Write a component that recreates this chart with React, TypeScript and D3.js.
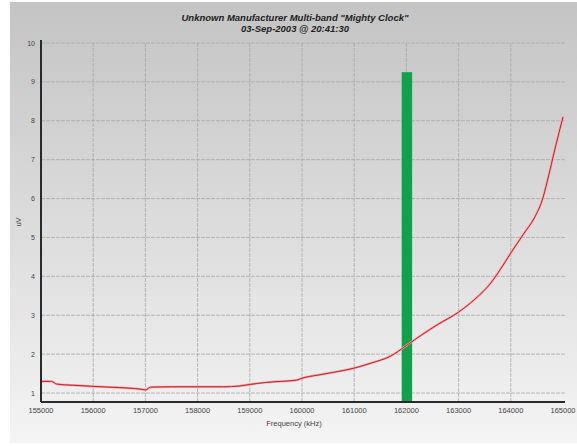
import React from "react";
import * as d3 from "d3";

// Measured response across the band (frequency in kHz)
const freqs = [
  155000, 155200, 155300, 155600, 156000, 156500, 156900, 157000, 157100, 157500,
  158000, 158500, 158800, 159000, 159300, 159600, 159900, 160000, 160300, 160600,
  161000, 161300, 161700, 162000, 162300, 162600, 163000, 163400, 163600, 163800,
  164000, 164250, 164450, 164600, 164700, 164850, 165000,
];
const values = [
  1.3, 1.3, 1.23, 1.2, 1.17, 1.14, 1.1, 1.08, 1.15, 1.16,
  1.16, 1.16, 1.18, 1.22, 1.27, 1.3, 1.33, 1.38, 1.46, 1.53,
  1.64, 1.76, 1.95, 2.22, 2.5, 2.76, 3.08, 3.52, 3.8, 4.18,
  4.6, 5.1, 5.5, 5.95, 6.45, 7.3, 8.1,
];

// Marker bar
const markerFreq = 162000;
const markerSpan = 200;
const markerValue = 9.25;

const xTicks = [155000, 156000, 157000, 158000, 159000, 160000, 161000, 162000, 163000, 164000, 165000];
const yTicks = [1, 2, 3, 4, 5, 6, 7, 8, 9, 10];

const titleLines = ['Unknown Manufacturer Multi-band "Mighty Clock"', "03-Sep-2003 @ 20:41:30"];
const xLabel = "Frequency (kHz)";
const yLabel = "uV";

const W = 577;
const H = 446;
const plot = { left: 41, right: 563, top: 43, bottom: 401 };

export default function App() {
  const x = d3.scaleLinear().domain([155000, 165000]).range([plot.left, plot.right]);
  const y = d3.scaleLinear().domain([1, 10]).range([393, 43]);

  const pts: [number, number][] = freqs.map((f, i) => [f, values[i]]);
  const line = d3
    .line<[number, number]>()
    .x((d) => x(d[0]))
    .y((d) => y(d[1]))
    .curve(d3.curveMonotoneX);

  const font = "'Liberation Sans', Arial, sans-serif";

  return (
    <div style={{ position: "fixed", left: 0, top: 0 }}>
      <svg width={W} height={H} style={{ display: "block" }}>
        <defs>
          <linearGradient id="panelBg" x1="0" y1="0" x2="0" y2="1">
            <stop offset="0" stopColor="#c4c4c4" />
            <stop offset="0.55" stopColor="#dedede" />
            <stop offset="1" stopColor="#f4f4f4" />
          </linearGradient>
        </defs>
        <rect x={0} y={0} width={W} height={H} fill="#ffffff" />
        <rect x={10} y={2} width={W - 10} height={H - 5} fill="url(#panelBg)" />

        {/* grid */}
        {yTicks.map((t) => (
          <line
            key={"gy" + t}
            x1={plot.left}
            x2={plot.right + 2}
            y1={y(t)}
            y2={y(t)}
            stroke="#a8a8a8"
            strokeWidth={0.8}
            strokeDasharray="4,1"
          />
        ))}
        {xTicks.slice(1, -1).map((t) => (
          <line
            key={"gx" + t}
            x1={x(t)}
            x2={x(t)}
            y1={plot.top}
            y2={plot.bottom}
            stroke="#a8a8a8"
            strokeWidth={0.8}
            strokeDasharray="4,1"
          />
        ))}

        {/* marker bar */}
        <rect
          x={x(markerFreq - markerSpan / 2) + 0.5}
          y={y(markerValue)}
          width={x(markerFreq + markerSpan / 2) - x(markerFreq - markerSpan / 2)}
          height={plot.bottom - y(markerValue)}
          fill="#12a048"
        />

        {/* response curve */}
        <path d={line(pts) ?? ""} fill="none" stroke="#f4a0a0" strokeWidth={2.2} strokeLinejoin="round" />
        <path d={line(pts) ?? ""} fill="none" stroke="#c81e24" strokeWidth={1} strokeLinejoin="round" />

        {/* axes */}
        <line x1={plot.left} x2={plot.left} y1={plot.top - 3} y2={plot.bottom + 1} stroke="#2a2a2a" strokeWidth={2} />
        <line x1={plot.left} x2={plot.right + 2} y1={plot.bottom + 1} y2={plot.bottom + 1} stroke="#2a2a2a" strokeWidth={2} />

        {/* tick labels */}
        {yTicks.map((t) => (
          <text
            key={"ty" + t}
            x={35}
            y={y(t) + 2.5}
            textAnchor="end"
            fontSize={7}
            fontFamily={font}
            fill="#444"
          >
            {t}
          </text>
        ))}
        {xTicks.map((t) => (
          <text
            key={"tx" + t}
            x={x(t)}
            y={413}
            textAnchor="middle"
            fontSize={7.5}
            fontFamily={font}
            fill="#444"
          >
            {t}
          </text>
        ))}

        {/* axis titles */}
        <text x={294} y={426} textAnchor="middle" fontSize={7.5} fontFamily={font} fill="#444">
          {xLabel}
        </text>
        <text
          transform={`translate(21,222) rotate(-90)`}
          textAnchor="middle"
          fontSize={7.5}
          fontFamily={font}
          fill="#444"
        >
          {yLabel}
        </text>

        {/* title */}
        {titleLines.map((s, i) => (
          <text
            key={"t" + i}
            x={295}
            y={21 + i * 11}
            textAnchor="middle"
            fontSize={9.5}
            fontWeight="bold"
            fontStyle="italic"
            fontFamily={font}
            fill="#222"
          >
            {s}
          </text>
        ))}
      </svg>
    </div>
  );
}
